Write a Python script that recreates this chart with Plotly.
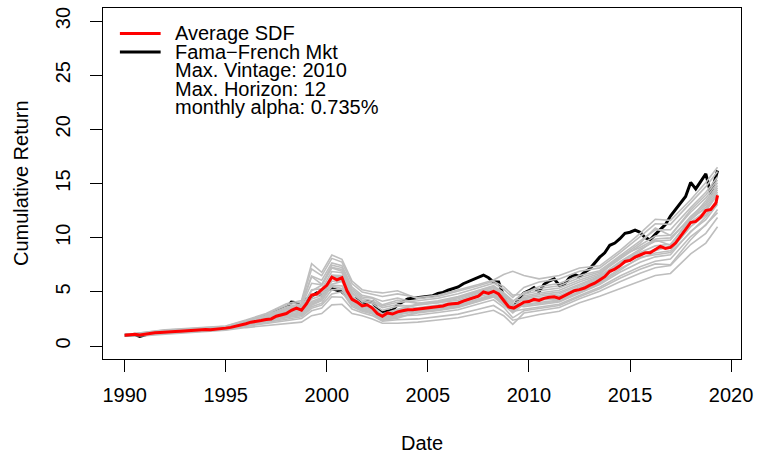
import plotly.graph_objects as go

# ---------------- data ----------------
quarter_dates = [1990 + i / 4 for i in range(118)] + [2019.33]

average_sdf = [
    1.00, 1.05, 1.08, 1.02,  1.10, 1.18, 1.22, 1.25,  1.30, 1.32, 1.33, 1.36,
    1.40, 1.43, 1.47, 1.50,  1.53, 1.50, 1.53, 1.57,  1.65, 1.72, 1.82, 1.92,
    2.05, 2.20, 2.25, 2.35,  2.45, 2.50, 2.75, 2.85,  3.00, 3.30, 3.50, 3.30,
    3.90, 4.70, 4.80, 5.20,  5.60, 6.35, 6.10, 6.30,  5.10, 4.30, 4.05, 3.70,
    3.80, 3.50, 3.00, 2.75,  3.05, 2.95, 3.15, 3.25,  3.35, 3.35, 3.40, 3.45,
    3.55, 3.55, 3.65, 3.70,  3.85, 3.90, 3.95, 4.15,  4.30, 4.45, 4.60, 5.00,
    4.85, 5.05, 4.80, 4.20,  3.60, 3.50, 3.80, 4.05,  4.10, 4.30, 4.20, 4.40,
    4.50, 4.55, 4.40, 4.65,  4.90, 5.10, 5.20, 5.35,  5.60, 5.80, 6.10, 6.40,
    6.90, 7.10, 7.40, 7.80,  7.90, 8.20, 8.40, 8.60,  8.60, 8.90, 9.20, 9.00,
    9.10, 9.50, 10.10, 10.70, 11.40, 11.50, 11.90, 12.50, 12.60, 13.20, 13.90,
]

ff_market = [
    1.00, 1.02, 1.05, 0.88,  1.00, 1.15, 1.18, 1.30,  1.35, 1.35, 1.38, 1.42,
    1.48, 1.50, 1.53, 1.58,  1.60, 1.55, 1.58, 1.60,  1.62, 1.75, 1.90, 2.05,
    2.15, 2.30, 2.45, 2.60,  2.75, 2.85, 3.30, 3.40,  3.55, 4.05, 4.00, 3.60,
    4.30, 4.60, 4.90, 4.70,  5.20, 5.30, 5.15, 5.00,  4.60, 4.20, 4.40, 3.80,
    4.10, 4.10, 3.40, 3.10,  3.20, 3.30, 3.80, 4.10,  4.35, 4.40, 4.45, 4.50,
    4.60, 4.65, 4.85, 4.95,  5.15, 5.30, 5.45, 5.75,  5.95, 6.10, 6.30, 6.55,
    6.30, 5.90, 5.90, 4.60,  3.70, 3.60, 4.40, 4.90,  5.10, 5.40, 5.00, 5.70,
    6.00, 6.20, 5.60, 5.70,  6.30, 6.60, 6.40, 6.80,  7.10, 7.70, 8.20, 8.60,
    9.30, 9.50, 9.90, 10.40, 10.50, 10.70, 10.50, 10.00, 9.80, 10.30, 10.80, 11.20,
    12.00, 12.60, 13.10, 13.80, 15.10, 14.50, 15.20, 15.90, 14.00, 15.50, 16.20,
]

vintage_dates = [1990, 1991, 1992, 1993, 1994, 1995, 1996, 1997, 1998, 1998.75,
                 1999.25, 1999.75, 2000.25, 2000.75, 2001.25, 2001.75, 2002.25,
                 2002.75, 2003.5, 2004.5, 2005.5, 2006.5, 2007.5, 2008.25,
                 2008.75, 2009.2, 2009.75, 2010.5, 2011.5, 2012.5, 2013.5,
                 2014.5, 2015.5, 2016.25, 2017, 2018, 2018.75, 2019.33]

sdf_01 = [1.03, 1.30, 1.50, 1.60, 1.70, 1.85, 2.40, 3.00, 3.90, 4.20, 7.60, 6.80, 8.40, 8.00, 6.00, 5.20, 5.00, 4.90, 5.10,
          4.36, 4.57, 5.03, 5.56, 5.97, 5.48, 4.70, 4.77, 5.10, 5.35, 6.10, 6.69, 8.03, 9.30, 10.16, 10.23, 12.35, 13.67, 15.07]
sdf_02 = [1.03, 1.27, 1.47, 1.57, 1.67, 1.82, 2.35, 2.92, 3.77, 4.07, 7.10, 6.49, 8.09, 7.75, 5.76, 4.98, 4.78, 4.57, 4.81,
          4.48, 4.69, 5.17, 5.68, 6.09, 6.60, 6.90, 6.50, 6.20, 6.50, 7.20, 7.40, 8.80, 10.40, 11.70, 11.60, 13.50, 15.10, 16.50]
sdf_03 = [1.02, 1.23, 1.43, 1.53, 1.64, 1.78, 2.28, 2.81, 3.59, 3.89, 6.45, 6.07, 7.67, 7.41, 5.44, 4.68, 4.48, 4.13, 4.42,
          3.94, 4.00, 4.22, 4.84, 5.28, 4.52, 3.80, 3.64, 3.84, 4.06, 4.86, 5.68, 6.81, 7.73, 8.23, 8.43, 10.59, 11.66, 13.09]
sdf_04 = [1.01, 1.19, 1.39, 1.49, 1.61, 1.74, 2.21, 2.70, 3.41, 3.71, 5.79, 5.65, 7.25, 7.07, 5.12, 4.38, 4.18, 3.69, 4.03,
          4.18, 4.40, 4.83, 5.38, 5.80, 5.24, 4.48, 5.41, 5.90, 6.19, 6.90, 7.21, 8.59, 10.10, 11.28, 11.23, 13.19, 14.71, 16.11]
sdf_05 = [1.01, 1.15, 1.35, 1.45, 1.58, 1.70, 2.15, 2.60, 3.24, 3.54, 5.19, 5.27, 6.87, 6.76, 4.83, 4.11, 3.91, 3.29, 3.68,
          3.76, 4.00, 4.36, 4.96, 5.40, 4.68, 3.95, 4.24, 4.44, 4.65, 5.44, 6.26, 7.57, 8.64, 9.24, 9.40, 11.65, 12.81, 14.21]
sdf_06 = [1.00, 1.12, 1.32, 1.42, 1.55, 1.67, 2.09, 2.52, 3.11, 3.41, 4.70, 4.95, 6.55, 6.50, 4.59, 3.88, 3.68, 2.96, 3.38,
          3.88, 4.11, 4.49, 5.08, 5.51, 4.84, 4.10, 4.85, 5.50, 5.77, 6.50, 6.95, 8.31, 9.70, 10.72, 10.73, 12.77, 14.19, 15.59]
sdf_07 = [1.00, 1.09, 1.31, 1.39, 1.54, 1.64, 2.07, 2.43, 3.02, 3.28, 4.35, 4.66, 6.25, 6.35, 4.38, 3.72, 3.47, 2.72, 3.13,
          3.16, 3.40, 3.68, 4.28, 4.70, 3.92, 3.20, 3.40, 3.62, 3.86, 4.66, 5.43, 6.46, 7.32, 7.82, 8.02, 10.10, 11.15, 12.60]
sdf_08 = [1.00, 1.08, 1.27, 1.37, 1.51, 1.62, 2.00, 2.38, 2.88, 3.16, 4.11, 4.48, 5.98, 6.02, 4.22, 3.58, 3.37, 2.62, 3.01,
          3.46, 3.71, 4.02, 4.66, 5.11, 4.28, 3.58, 4.48, 4.74, 4.97, 5.74, 6.45, 7.78, 8.94, 9.66, 9.78, 11.97, 13.20, 14.60]
sdf_09 = [0.99, 1.06, 1.24, 1.34, 1.48, 1.59, 1.95, 2.30, 2.75, 2.99, 3.88, 4.22, 5.60, 5.55, 4.01, 3.45, 3.22, 2.53, 2.86,
          3.22, 3.46, 3.75, 4.36, 4.79, 3.99, 3.28, 4.00, 4.25, 4.35, 5.25, 6.05, 7.45, 8.35, 8.95, 9.05, 11.45, 12.45, 13.95]
sdf_10 = [0.99, 1.03, 1.21, 1.31, 1.45, 1.56, 1.89, 2.20, 2.60, 2.81, 3.63, 3.94, 5.18, 5.25, 3.77, 3.30, 3.05, 2.43, 2.68,
          3.04, 3.28, 3.55, 4.12, 4.53, 3.78, 3.05, 3.86, 4.03, 4.24, 5.04, 5.91, 7.13, 8.09, 8.59, 8.79, 11.02, 12.11, 13.52]
sdf_11 = [0.98, 1.00, 1.16, 1.26, 1.40, 1.51, 1.81, 2.07, 2.37, 2.53, 3.25, 3.51, 4.55, 4.50, 3.42, 3.07, 2.80, 2.28, 2.42,
          2.50, 2.71, 2.94, 3.40, 3.74, 3.15, 2.38, 2.60, 2.90, 3.20, 4.00, 4.60, 5.30, 6.00, 6.50, 6.70, 8.50, 9.50, 11.00]
sdf_12 = [0.97, 0.95, 1.10, 1.20, 1.35, 1.45, 1.70, 1.90, 2.10, 2.20, 2.80, 3.00, 3.80, 3.85, 3.00, 2.80, 2.50, 2.10, 2.10,
          2.20, 2.40, 2.60, 3.00, 3.30, 2.80, 2.00, 3.04, 3.29, 3.56, 4.36, 5.05, 5.93, 6.72, 7.22, 7.42, 9.37, 10.40, 11.87]
sdf_13 = [1.02, 1.21, 1.41, 1.51, 1.62, 1.76, 2.24, 2.75, 3.50, 3.80, 6.40, 5.70, 7.46, 7.24, 5.28, 4.53, 4.40, 3.80, 4.22,
          3.94, 4.17, 4.56, 5.14, 5.57, 4.92, 4.18, 4.37, 4.60, 4.82, 5.60, 6.36, 7.68, 8.80, 9.80, 9.30, 11.82, 13.02, 14.42]
sdf_14 = [1.01, 1.17, 1.37, 1.47, 1.59, 1.72, 2.17, 2.64, 3.32, 3.62, 5.10, 5.60, 7.20, 6.90, 4.96, 4.23, 4.03, 3.55, 3.83,
          3.52, 3.77, 4.09, 4.72, 5.17, 4.36, 3.65, 3.76, 3.94, 4.16, 4.96, 5.80, 6.98, 8.20, 8.42, 8.62, 10.50, 11.90, 13.32]
sdf_15 = [1.00, 1.11, 1.31, 1.41, 1.54, 1.66, 2.07, 2.48, 3.15, 3.35, 4.60, 4.81, 6.41, 6.39, 4.60, 3.78, 3.58, 2.81, 3.25,
          3.85, 4.02, 4.47, 4.98, 5.50, 4.70, 4.10, 4.93, 5.30, 5.56, 6.30, 6.82, 8.17, 9.50, 10.90, 10.20, 12.56, 13.93, 15.33]
sdf_16 = [0.99, 1.07, 1.26, 1.36, 1.49, 1.61, 1.98, 2.34, 2.82, 3.08, 4.00, 4.36, 5.70, 5.95, 4.12, 3.60, 3.30, 2.58, 2.94,
          3.30, 3.62, 3.85, 4.55, 4.92, 4.15, 3.40, 4.61, 4.90, 5.14, 5.90, 6.56, 8.30, 9.10, 9.88, 9.98, 11.80, 13.41, 14.81]
sdf_17 = [0.99, 1.05, 1.23, 1.33, 1.47, 1.58, 1.92, 2.25, 2.68, 2.90, 3.76, 4.20, 5.50, 5.30, 3.90, 3.38, 3.14, 2.48, 2.77,
          2.86, 3.09, 3.34, 3.88, 4.26, 3.57, 2.60, 3.25, 3.49, 3.74, 4.54, 5.28, 6.25, 7.08, 7.58, 7.50, 9.81, 11.20, 12.31]
sdf_18 = [0.98, 1.02, 1.19, 1.29, 1.43, 1.54, 1.86, 2.15, 2.50, 2.70, 3.48, 3.77, 4.80, 5.00, 3.63, 3.20, 2.95, 2.37, 2.57,
          3.15, 3.30, 3.65, 4.15, 4.65, 3.90, 3.15, 4.13, 4.30, 4.50, 5.30, 6.17, 7.47, 8.50, 8.80, 9.23, 11.90, 12.63, 14.03]

vintage_series = [sdf_01, sdf_02, sdf_03, sdf_04, sdf_05, sdf_06, sdf_07, sdf_08, sdf_09,
                  sdf_10, sdf_11, sdf_12, sdf_13, sdf_14, sdf_15, sdf_16, sdf_17, sdf_18]

x_ticks = [1990, 1995, 2000, 2005, 2010, 2015, 2020]
y_ticks = [0, 5, 10, 15, 20, 25, 30]

legend_lines = ["Average SDF", "Fama\u2212French Mkt"]
legend_notes = ["Max. Vintage: 2010", "Max. Horizon: 12", "monthly alpha: 0.735%"]

# ---------------- figure ----------------
FONT = "Liberation Sans, Arial, Helvetica, sans-serif"
FS = 20
fig = go.Figure()

fig.add_trace(go.Scatter(x=quarter_dates, y=ff_market, mode="lines",
                         line=dict(color="#000000", width=3), showlegend=False))
for s in vintage_series:
    fig.add_trace(go.Scatter(x=vintage_dates, y=s, mode="lines",
                             line=dict(color="#BEBEBE", width=1.6), showlegend=False))
fig.add_trace(go.Scatter(x=quarter_dates, y=average_sdf, mode="lines",
                         line=dict(color="#FF0000", width=3), showlegend=False))

L, R, T, B = 103, 15, 7, 95
W, H = 760, 454
pw, ph = W - L - R, H - T - B

def px(xp):
    return (xp - L) / pw

def py(yp):
    return (H - B - yp) / ph

axis_common = dict(showline=True, linecolor="black", linewidth=1, mirror=True,
                   ticks="outside", ticklen=12, tickwidth=1, tickcolor="black",
                   showgrid=False, zeroline=False,
                   tickfont=dict(family=FONT, size=FS, color="black"))

fig.update_layout(
    width=W, height=H,
    margin=dict(l=L, r=R, t=T, b=B),
    paper_bgcolor="white", plot_bgcolor="white",
    font=dict(family=FONT, size=FS, color="black"),
    xaxis=dict(range=[1988.93, 2020.49], tickvals=x_ticks, ticklabelstandoff=6, **axis_common),
    yaxis=dict(range=[-1.2, 31.2], tickvals=y_ticks, tickangle=-90, ticklabelstandoff=12,
               **axis_common),
    showlegend=False,
)

# axis titles
fig.add_annotation(text="Date", xref="paper", yref="paper", x=0.5, y=py(443),
                   xanchor="center", yanchor="middle", showarrow=False,
                   font=dict(family=FONT, size=FS))
fig.add_annotation(text="Cumulative Return", xref="paper", yref="paper",
                   x=px(20), y=0.5, textangle=-90, xanchor="center",
                   yanchor="middle", showarrow=False, font=dict(family=FONT, size=FS))

# legend block
legend_colors = ["#FF0000", "#000000"]
row_y = [32.5, 51.0, 69.5, 88.0, 106.5]
for i, (lab, col) in enumerate(zip(legend_lines, legend_colors)):
    fig.add_shape(type="line", xref="paper", yref="paper",
                  x0=px(120), x1=px(161), y0=py(row_y[i]), y1=py(row_y[i]),
                  line=dict(color=col, width=3))
    fig.add_annotation(text=lab, xref="paper", yref="paper", x=px(173), y=py(row_y[i]),
                       xanchor="left", yanchor="middle", showarrow=False,
                       font=dict(family=FONT, size=FS))
for j, lab in enumerate(legend_notes):
    fig.add_annotation(text=lab, xref="paper", yref="paper", x=px(173), y=py(row_y[j + 2]),
                       xanchor="left", yanchor="middle", showarrow=False,
                       font=dict(family=FONT, size=FS))

fig.write_html("out.html", config={"displayModeBar": False},
               post_script="document.body.style.margin='0px';")
